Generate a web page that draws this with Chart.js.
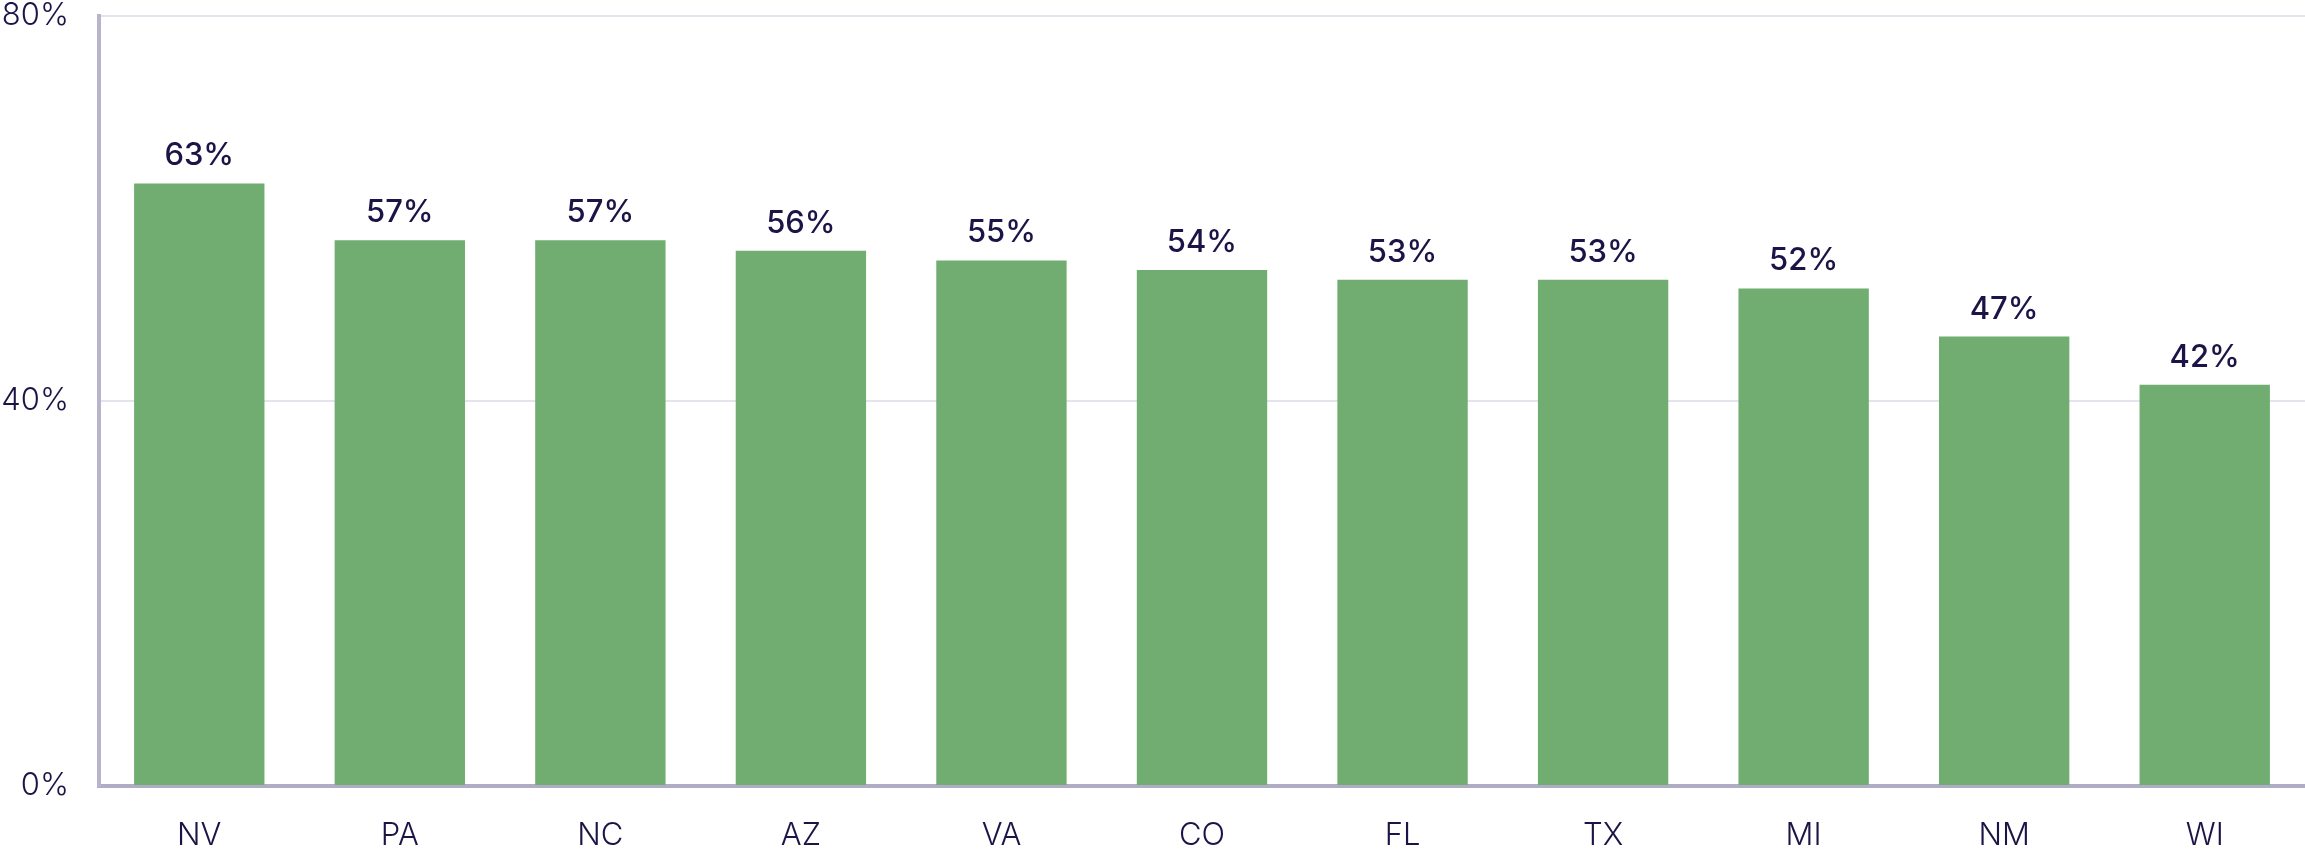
<!DOCTYPE html>
<html>
<head>
<meta charset="utf-8">
<script src="https://cdn.jsdelivr.net/npm/chart.js@4"></script>
<style>
  html, body { margin: 0; padding: 0; background: #ffffff; }
  #wrap { width: 2305px; height: 852px; position: relative; }
</style>
</head>
<body>
<div id="wrap"><canvas id="barChart"></canvas></div>
<script>
// categories and values
const states = ['NV', 'PA', 'NC', 'AZ', 'VA', 'CO', 'FL', 'TX', 'MI', 'NM', 'WI'];
const shares = [62.6, 56.7, 56.7, 55.6, 54.6, 53.6, 52.6, 52.6, 51.7, 46.7, 41.7];
const yTicks = [0, 40, 80];

const inkColor = '#1b1446';
const fontFamily = "'Inter', 'Lato', sans-serif";

// simple value labels above each bar
const valueLabels = {
  id: 'valueLabels',
  afterDatasetsDraw(chart) {
    const ctx = chart.ctx;
    const meta = chart.getDatasetMeta(0);
    ctx.save();
    ctx.fillStyle = inkColor;
    ctx.font = '500 31px ' + fontFamily;
    ctx.textAlign = 'center';
    ctx.textBaseline = 'alphabetic';
    meta.data.forEach((bar, i) => {
      ctx.fillText(Math.round(shares[i]) + '%', bar.x, bar.y - 18);
    });
    ctx.restore();
  }
};

const ctx = document.getElementById('barChart').getContext('2d');
new Chart(ctx, {
  type: 'bar',
  plugins: [valueLabels],
  data: {
    labels: states,
    datasets: [{
      data: shares,
      backgroundColor: '#71ad71',
      borderWidth: 0,
      barPercentage: 0.65,
      categoryPercentage: 1.0
    }]
  },
  options: {
    responsive: true,
    maintainAspectRatio: false,
    animation: false,
    layout: { padding: { top: 16, right: 0, left: 0, bottom: 0 } },
    plugins: {
      legend: { display: false },
      tooltip: { enabled: false }
    },
    scales: {
      x: {
        grid: { display: false, drawTicks: false },
        border: { color: '#b1acc6', width: 4 },
        ticks: {
          color: inkColor,
          padding: 31,
          font: { family: fontFamily, size: 31, weight: 300 }
        },
        afterFit: scale => { scale.height = 66; }
      },
      y: {
        min: 0,
        max: 80,
        afterBuildTicks: scale => { scale.ticks = yTicks.map(v => ({ value: v })); },
        grid: { color: '#e5e3ed', lineWidth: 2, drawTicks: false },
        border: { color: '#b8b4cc', width: 4 },
        ticks: {
          color: inkColor,
          padding: 30,
          font: { family: fontFamily, size: 31, weight: 300 },
          callback: v => v + '%'
        },
        afterFit: scale => {
          scale.width = 99;
          scale.paddingTop = 0;
          scale.paddingBottom = 0;
        }
      }
    }
  }
});
</script>
</body>
</html>
